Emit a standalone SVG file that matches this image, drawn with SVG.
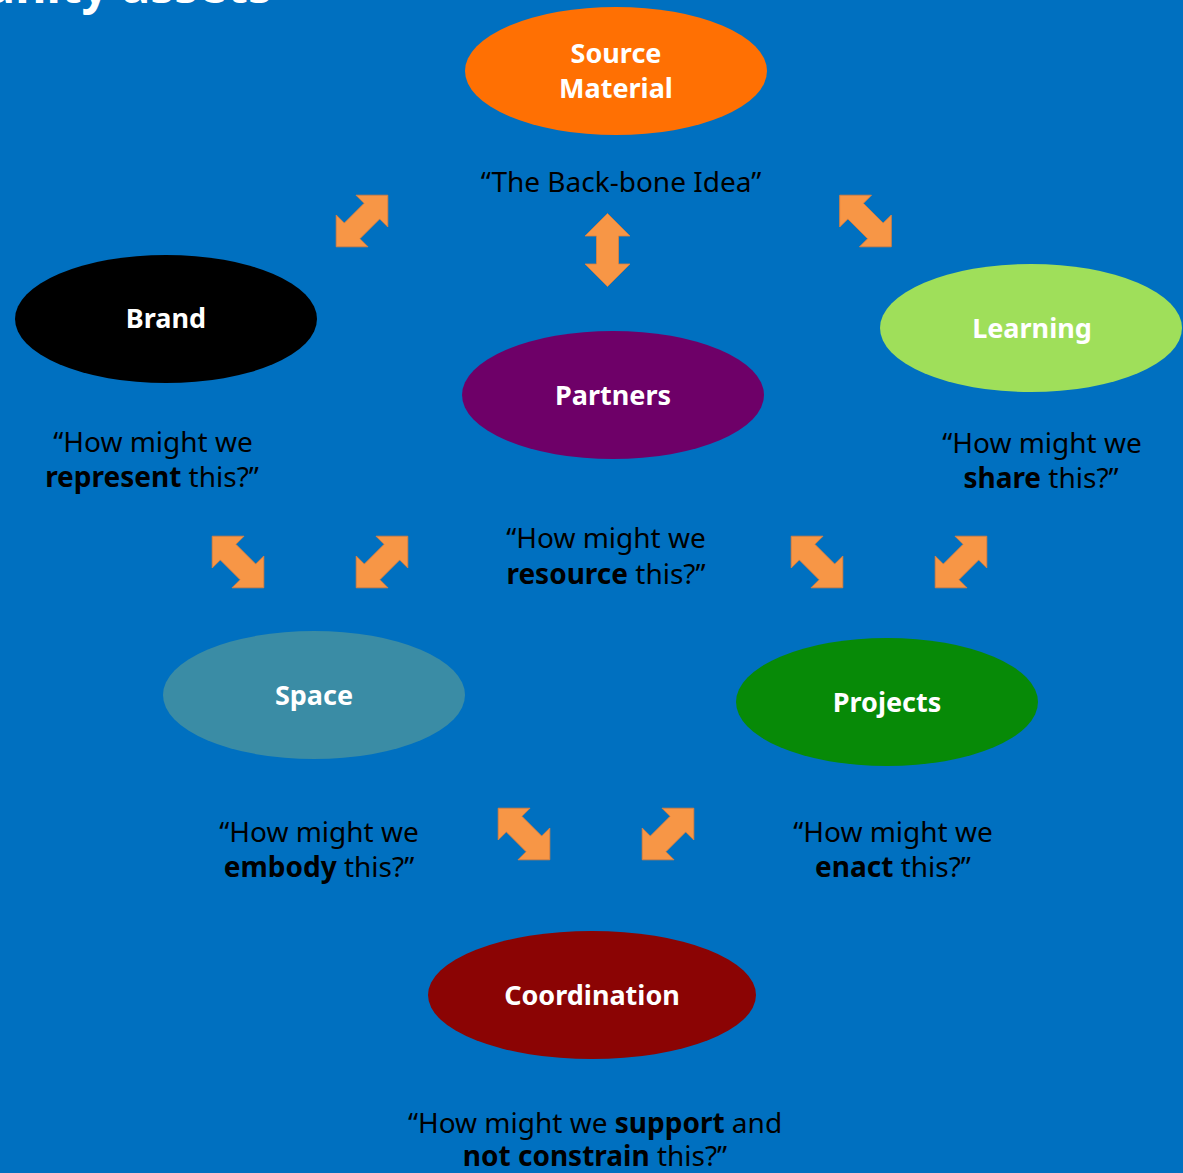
<svg xmlns="http://www.w3.org/2000/svg" width="1183" height="1173" viewBox="0 0 1183 1173">
<defs>
<style>
.lbl{font-family:"Noto Sans","DejaVu Sans","Liberation Sans",sans-serif;font-weight:bold;font-size:27px;fill:#ffffff;text-anchor:middle}
.q{font-family:"Noto Sans","DejaVu Sans","Liberation Sans",sans-serif;font-size:28px;fill:#000000;text-anchor:middle}
.b{font-weight:bold}
.arr{fill:#F79646;stroke:#E0803A;stroke-width:0.8}
</style>
<path id="dbl" d="M36.5,0 L14,-22.5 L14,-11 L-14,-11 L-14,-22.5 L-36.5,0 L-14,22.5 L-14,11 L14,11 L14,22.5 Z"/>
</defs>
<rect width="1183" height="1173" fill="#0070C0"/>
<text x="272" y="3" font-family="Noto Sans, DejaVu Sans, sans-serif" font-weight="bold" font-size="48" fill="#ffffff" text-anchor="end">Community assets</text>

<g id="connectors">
<use href="#dbl" class="arr" transform="translate(607.5,250) rotate(90)"/>
<use href="#dbl" class="arr" transform="translate(362,221) rotate(-45)"/>
<use href="#dbl" class="arr" transform="translate(865.5,221) rotate(45)"/>
<use href="#dbl" class="arr" transform="translate(238,562) rotate(45)"/>
<use href="#dbl" class="arr" transform="translate(382,562) rotate(-45)"/>
<use href="#dbl" class="arr" transform="translate(817,562) rotate(45)"/>
<use href="#dbl" class="arr" transform="translate(961,562) rotate(-45)"/>
<use href="#dbl" class="arr" transform="translate(524,834) rotate(45)"/>
<use href="#dbl" class="arr" transform="translate(668,834) rotate(-45)"/>
</g>

<g id="source">
<ellipse cx="616" cy="71" rx="151" ry="64" fill="#FF7003"/>
<text class="lbl" x="616" y="63">Source</text>
<text class="lbl" x="616" y="98">Material</text>
<text class="q" x="621" y="192">“The Back-bone Idea”</text>
</g>

<g id="brand">
<ellipse cx="166" cy="319" rx="151" ry="64" fill="#000000"/>
<text class="lbl" x="166" y="328">Brand</text>
<text class="q" x="153" y="452">“How might we</text>
<text class="q" x="152" y="487"><tspan class="b">represent</tspan> this?”</text>
</g>

<g id="learning">
<ellipse cx="1031" cy="328" rx="151" ry="64" fill="#9FDF5A"/>
<text class="lbl" x="1032" y="338">Learning</text>
<text class="q" x="1042" y="453">“How might we</text>
<text class="q" x="1041" y="488"><tspan class="b">share</tspan> this?”</text>
</g>

<g id="partners">
<ellipse cx="613" cy="395" rx="151" ry="64" fill="#6E0068"/>
<text class="lbl" x="613" y="405">Partners</text>
<text class="q" x="606" y="548">“How might we</text>
<text class="q" x="606" y="584"><tspan class="b">resource</tspan> this?”</text>
</g>

<g id="space">
<ellipse cx="314" cy="695" rx="151" ry="64" fill="#3A8CA5"/>
<text class="lbl" x="314" y="705">Space</text>
<text class="q" x="319" y="842">“How might we</text>
<text class="q" x="319" y="877"><tspan class="b">embody</tspan> this?”</text>
</g>

<g id="projects">
<ellipse cx="887" cy="702" rx="151" ry="64" fill="#078A07"/>
<text class="lbl" x="887" y="712">Projects</text>
<text class="q" x="893" y="842">“How might we</text>
<text class="q" x="893" y="877"><tspan class="b">enact</tspan> this?”</text>
</g>

<g id="coordination">
<ellipse cx="592" cy="995" rx="164" ry="64" fill="#8B0404"/>
<text class="lbl" x="592" y="1005">Coordination</text>
<text class="q" x="595" y="1133">“How might we <tspan class="b">support</tspan> and</text>
<text class="q" x="595" y="1166"><tspan class="b">not constrain</tspan> this?”</text>
</g>
</svg>
